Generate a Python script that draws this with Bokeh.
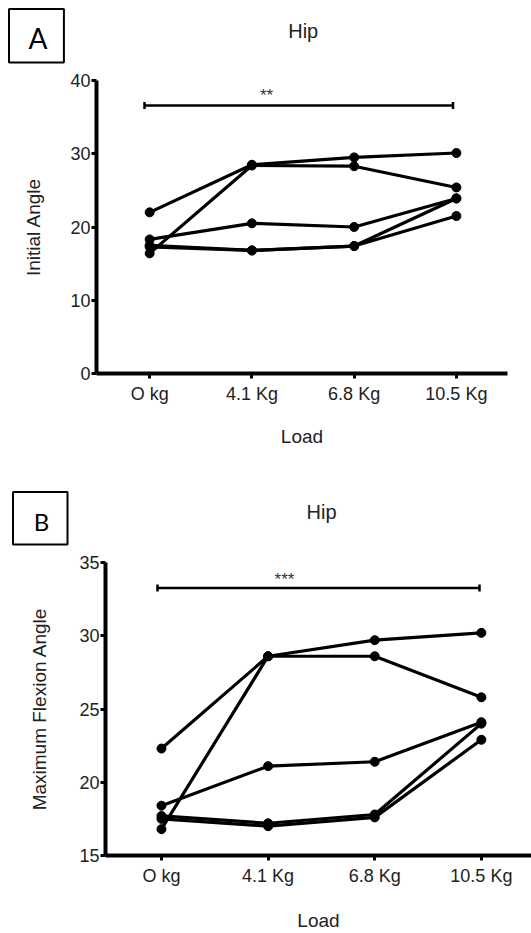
from bokeh.plotting import figure
from bokeh.models import Range1d, FixedTicker, Label
from bokeh.layouts import column
from bokeh.embed import file_html
from bokeh.resources import INLINE

# ---------------- data ----------------
loads = ["O kg", "4.1 Kg", "6.8 Kg", "10.5 Kg"]
load_pos = [0, 1, 2, 3]

# Panel A: Initial angle (deg), one list per subject
initial_s1 = [22.0, 28.5, 29.5, 30.1]
initial_s2 = [16.4, 28.4, 28.3, 25.4]
initial_s3 = [18.3, 20.5, 20.0, 23.9]
initial_s4 = [17.5, 16.8, 17.4, 23.9]
initial_s5 = [17.3, 16.8, 17.4, 21.5]

# Panel B: Maximum flexion angle (deg)
maxflex_s1 = [22.3, 28.6, 29.7, 30.2]
maxflex_s2 = [16.8, 28.6, 28.6, 25.8]
maxflex_s3 = [18.4, 21.1, 21.4, 24.1]
maxflex_s4 = [17.7, 17.2, 17.8, 24.0]
maxflex_s5 = [17.5, 17.0, 17.6, 22.9]

ticks_A = [0, 10, 20, 30, 40]
ticks_B = [15, 20, 25, 30, 35]

FONT = "Liberation Sans"
W = 531


def make_header(height, letter, letter_size, title, box_px, letter_px, title_px):
    h = figure(width=W, height=height, x_range=Range1d(0, W), y_range=Range1d(height, 0),
               output_backend="svg", toolbar_location=None,
               x_axis_location=None, y_axis_location=None,
               min_border_left=0, min_border_right=0, min_border_top=0, min_border_bottom=0)
    h.frame_align = False
    h.outline_line_color = None
    h.xgrid.visible = False
    h.ygrid.visible = False
    bx0, by0, bx1, by1 = box_px
    h.quad(left=[bx0], right=[bx1], top=[by0], bottom=[by1],
           fill_color=None, line_color="black", line_width=2)
    h.add_layout(Label(x=letter_px[0], y=letter_px[1], text=letter,
                       text_align="center", text_baseline="alphabetic",
                       text_font="Lato", text_font_size=letter_size, text_color="black"))
    h.add_layout(Label(x=title_px[0], y=title_px[1], text=title,
                       text_align="center", text_baseline="alphabetic",
                       text_font=FONT, text_font_size="20px", text_color="#222222"))
    return h


def make_panel(series, yticks, ylabel, stars, cfg):
    H = cfg["height"]
    top = cfg["top"]
    bl, br, bt, bb = cfg["borders"]
    x0, x1 = cfg["xr"]
    y0, y1 = cfg["yr"]
    p = figure(width=W, height=H, x_range=Range1d(x0, x1), y_range=Range1d(y0, y1),
               output_backend="svg", toolbar_location=None,
               min_border_left=bl, min_border_right=br,
               min_border_top=bt, min_border_bottom=bb)
    p.frame_align = False
    p.outline_line_color = None
    p.xgrid.visible = False
    p.ygrid.visible = False

    fw = W - bl - br
    fh = H - bt - bb

    def dx(px):
        return x0 + (px - bl) / fw * (x1 - x0)

    def dy(py):  # page pixel -> data
        return y0 + (top + bt + fh - py) / fh * (y1 - y0)

    for s in series:
        p.line(load_pos, s, line_width=3.2, line_color="black")
        p.scatter(load_pos, s, size=9, color="black")

    for ax in (p.xaxis[0], p.yaxis[0]):
        ax.axis_line_width = 4
        ax.axis_line_color = "black"
        ax.major_tick_line_width = 3
        ax.major_tick_line_color = "black"
        ax.major_tick_out = 5
        ax.major_tick_in = 0
        ax.minor_tick_line_color = None
        ax.major_label_text_font = FONT
        ax.major_label_text_font_size = "18px"
        ax.major_label_text_color = "#222222"
        ax.axis_label_text_font = FONT
        ax.axis_label_text_font_size = "19px"
        ax.axis_label_text_font_style = "normal"
        ax.axis_label_text_color = "#222222"

    p.xaxis.ticker = FixedTicker(ticks=load_pos)
    p.xaxis.major_label_overrides = {i: lab for i, lab in zip(load_pos, loads)}
    p.xaxis.major_label_standoff = 5
    p.xaxis.axis_label = "Load"
    p.xaxis.axis_label_standoff = cfg["xlab_standoff"]

    p.yaxis.ticker = FixedTicker(ticks=yticks)
    p.yaxis.major_label_standoff = 1
    p.yaxis.axis_label = ylabel
    p.yaxis.axis_label_standoff = cfg["ylab_standoff"]

    # significance bar
    sx0, sx1 = dx(cfg["sig_px"][0]), dx(cfg["sig_px"][1])
    sy = dy(cfg["sig_px"][2])
    cap = (y1 - y0) * 3.5 / fh
    p.segment(x0=[sx0], y0=[sy], x1=[sx1], y1=[sy], line_width=2.5, line_color="black")
    p.segment(x0=[sx0, sx1], y0=[sy - cap, sy - cap], x1=[sx0, sx1], y1=[sy + cap, sy + cap],
              line_width=2.5, line_color="black")
    p.add_layout(Label(x=dx(cfg["star_px"][0]), y=dy(cfg["star_px"][1]), text=stars,
                       text_align="center", text_baseline="alphabetic",
                       text_font=FONT, text_font_size="17px", text_color="#333333"))
    return p


# page layout: headerA 0-66, panel A 66-466, headerB 466-548, panel B 548-933
cfgA = dict(height=400, top=66, borders=(96, 24, 14, 93), xr=(-0.52, 3.5), yr=(0, 40),
            xlab_standoff=19, ylab_standoff=23,
            sig_px=(144, 452.5, 105), star_px=(266, 94.5))
cfgB = dict(height=385, top=548, borders=(105, 0, 14, 73), xr=(-0.525, 3.47), yr=(15, 35),
            xlab_standoff=21, ylab_standoff=26,
            sig_px=(157, 479, 588), star_px=(284, 579))

hA = make_header(66, "A", "28px", "Hip", box_px=(8.5, 8.5, 63.4, 62), letter_px=(37.5, 37),
                 title_px=(302.7, 30))
pA = make_panel([initial_s1, initial_s2, initial_s3, initial_s4, initial_s5],
                ticks_A, "Initial Angle", "**", cfgA)
hB = make_header(82, "B", "24px", "Hip", box_px=(12.5, 25.4, 67, 78), letter_px=(41, 55),
                 title_px=(321, 45))
pB = make_panel([maxflex_s1, maxflex_s2, maxflex_s3, maxflex_s4, maxflex_s5],
                ticks_B, "Maximum Flexion Angle", "***", cfgB)

layout = column(hA, pA, hB, pB, spacing=0)
open("out.html", "w").write(file_html(layout, INLINE))
